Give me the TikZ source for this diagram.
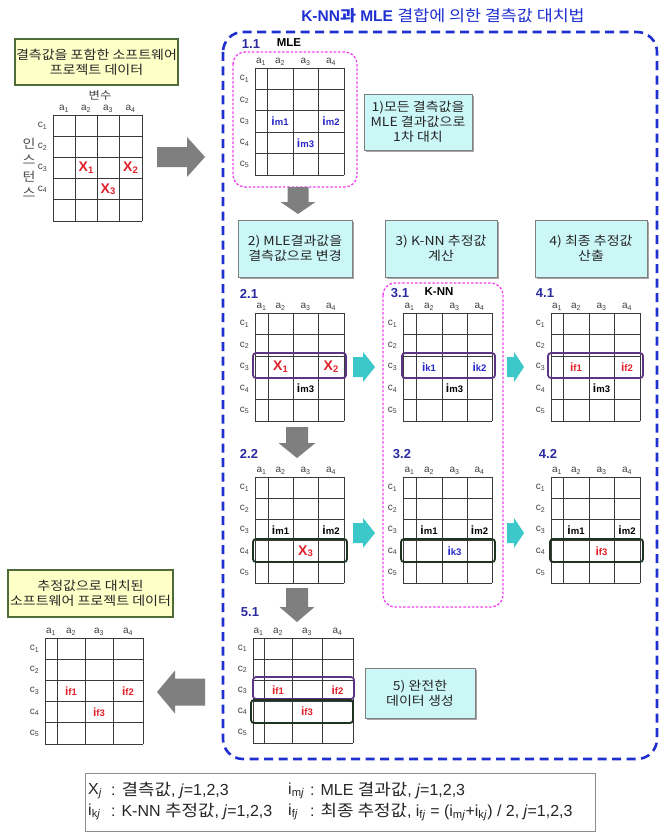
\documentclass[tikz,border=0pt]{standalone}
\usepackage{fontspec}
\setmainfont{Liberation Sans}
\newfontfamily\kr{Noto Sans CJK KR}[FakeStretch=1.12]
\usetikzlibrary{shadows}
\definecolor{kblue}{HTML}{1F2FD0}
\definecolor{secblue}{HTML}{2A2A9E}
\definecolor{kred}{HTML}{E0202A}
\definecolor{vblue}{HTML}{2828C8}
\definecolor{kmag}{HTML}{F040F0}
\definecolor{kpurple}{HTML}{5E3585}
\definecolor{kdark}{HTML}{1E3320}
\definecolor{kgray}{HTML}{7F7F7F}
\definecolor{kcyan}{HTML}{3CC8C8}
\definecolor{kyellow}{HTML}{FFFFC8}
\definecolor{kygreen}{HTML}{4F6B3A}
\definecolor{klblue}{HTML}{CCF7F7}
\definecolor{gridc}{HTML}{3A3A3A}

\newcommand{\xv}[1]{X\raisebox{-0.12em}{\fontsize{9.5}{9.5}\selectfont #1}}
\newcommand{\iv}[1]{i{\fontsize{9.5}{9.5}\selectfont #1}}

% #1 name, #2..#6 x of vertical lines, #7 top y, #8 row height, #9 last row label
\newcommand{\mkgrid}[9]{%
  \foreach \xx in {#2,#3,#4,#5,#6} \draw[gridl] (\xx,#7) -- (\xx,{#7+5*#8});
  \foreach \k in {0,...,5} \draw[gridl] (#2,{#7+\k*#8}) -- (#6,{#7+\k*#8});
  \node[collab] (#1-a1) at ({(#2+#3)/2},{#7-6}) {a\textsubscript{1}};
  \node[collab] (#1-a2) at ({(#3+#4)/2},{#7-6}) {a\textsubscript{2}};
  \node[collab] (#1-a3) at ({(#4+#5)/2},{#7-6}) {a\textsubscript{3}};
  \node[collab] (#1-a4) at ({(#5+#6)/2},{#7-6}) {a\textsubscript{4}};
  \foreach \r in {1,...,#9} \node[rowlab] (#1-c\r) at ({#2-10.5},{#7+(\r-0.5)*#8}) {c\textsubscript{\r}};
  \foreach \r in {1,...,5} {
    \coordinate (#1-\r-2) at ({(#3+#4)/2},{#7+(\r-0.5)*#8});
    \coordinate (#1-\r-3) at ({(#4+#5)/2},{#7+(\r-0.5)*#8});
    \coordinate (#1-\r-4) at ({(#5+#6)/2},{#7+(\r-0.5)*#8});
  }
}
% horizontal block arrow: tail x, tip x, y, shaft half, head half, head length (signed), colour
\newcommand{\harrow}[7]{%
  \fill[#7] (#1,{#3-#4}) -- ({#2-#6},{#3-#4}) -- ({#2-#6},{#3-#5}) -- (#2,#3)
    -- ({#2-#6},{#3+#5}) -- ({#2-#6},{#3+#4}) -- (#1,{#3+#4}) -- cycle;}
% vertical block arrow: x, tail y, tip y, shaft half, head half, head length, colour
\newcommand{\varrow}[7]{%
  \fill[#7] ({#1-#4},#2) -- ({#1-#4},{#3-#6}) -- ({#1-#5},{#3-#6}) -- (#1,#3)
    -- ({#1+#5},{#3-#6}) -- ({#1+#4},{#3-#6}) -- ({#1+#4},#2) -- cycle;}

\begin{document}
\begin{tikzpicture}[x=1pt,y=-1pt,
  gridl/.style={draw=gridc, line width=0.7pt},
  collab/.style={inner sep=0pt, font=\fontsize{10}{10}\selectfont, text=black!75},
  rowlab/.style={inner sep=0pt, font=\fontsize{10}{10}\selectfont, text=black!75},
  val/.style={inner sep=0pt, font=\bfseries\fontsize{14}{14}\selectfont},
  ival/.style={inner sep=0pt, font=\bfseries\fontsize{12}{12}\selectfont},
  secnum/.style={inner sep=0pt, text=secblue, font=\bfseries\fontsize{13}{13}\selectfont},
  seclab/.style={inner sep=0pt, font=\bfseries\fontsize{11.5}{11.5}\selectfont},
  ybox/.style={draw=kygreen, line width=1.3pt, fill=kyellow, align=center, inner sep=0pt,
    font=\kr\fontsize{12.5}{15}\selectfont, text=black!85},
  lbox/.style={draw=kgray, line width=0.8pt, fill=klblue, align=center, inner sep=0pt,
    drop shadow={shadow xshift=2pt, shadow yshift=-2pt, fill=black!35, opacity=1},
    font=\kr\fontsize{12.5}{15}\selectfont, text=black!85},
  rowp/.style={draw=kpurple, line width=1.8pt, rounded corners=3pt},
  rowd/.style={draw=kdark, line width=1.8pt, rounded corners=3pt},
  magbox/.style={draw=kmag, line width=1.3pt, dash pattern=on 2.5pt off 1.8pt, rounded corners=12pt},
  leg/.style={inner sep=0pt, anchor=west, font=\fontsize{16}{16}\selectfont, text=black!85}
]
\useasboundingbox (0,0) rectangle (668,832);

% title and big dashed frame
\node[inner sep=0pt, text=kblue, font=\fontsize{15.5}{15.5}\selectfont] (title) at (443,16)
  {\textbf{K-NN{\kr 과} MLE} {\kr 결합에 의한 결측값 대치법}};
\draw[kblue, line width=2.6pt, dash pattern=on 9pt off 5.5pt, rounded corners=20pt] (223,32) rectangle (657,759);

% ---------- input data (top left)
\node[ybox, minimum width=163pt, minimum height=46pt] (inbox) at (96.5,62)
  {결측값을 포함한 소프트웨어\\프로젝트 데이터};
\node[inner sep=0pt, font=\kr\fontsize{11}{11}\selectfont, text=black!75] (varlab) at (100,95) {변수};
\node[inner sep=0pt, align=center, font=\kr\fontsize{12.5}{16.5}\selectfont, text=black!70] (instlab) at (29,168) {인\\스\\턴\\스};
\mkgrid{g0}{53}{75}{97}{119}{142}{115}{21.2}{4}
\node[val, kred] (g0x1) at (g0-3-2) {\xv{1}};
\node[val, kred] (g0x2) at (g0-3-4) {\xv{2}};
\node[val, kred] (g0x3) at (g0-4-3) {\xv{3}};
\harrow{157}{205}{157}{10}{20}{18}{kgray}

% ---------- 1.1 MLE
\node[secnum] (s11) at (251,44) {1.1};
\node[seclab] (s11l) at (289,43) {MLE};
\draw[magbox] (233,52) rectangle (357,187);
\mkgrid{g11}{255}{267}{293}{318}{344}{68}{21.4}{5}
\node[ival, vblue] (g11m1) at (g11-3-2) {\iv{m1}};
\node[ival, vblue] (g11m2) at (g11-3-4) {\iv{m2}};
\node[ival, vblue] (g11m3) at (g11-4-3) {\iv{m3}};
\node[lbox, minimum width=108pt, minimum height=56pt] (b1) at (418,122)
  {1)모든 결측값을\\MLE 결과값으로\\1차 대치};
\varrow{298}{187}{214}{10.5}{17.5}{12}{kgray}

% ---------- step boxes
\node[lbox, minimum width=114pt, minimum height=57pt] (b2) at (295,248.5) {2) MLE결과값을\\결측값으로 변경};
\node[lbox, minimum width=112pt, minimum height=57pt] (b3) at (441,248.5) {3) K-NN 추정값\\계산};
\node[lbox, minimum width=112pt, minimum height=57pt] (b4) at (591,248.5) {4) 최종 추정값\\산출};

% ---------- 2.1
\node[secnum] (s21) at (249,293.5) {2.1};
\mkgrid{g21}{255}{268}{293}{318}{344}{313}{21.6}{5}
\draw[rowp] (253,353) rectangle (346,378);
\node[val, kred] (g21x1) at (g21-3-2) {\xv{1}};
\node[val, kred] (g21x2) at (g21-3-4) {\xv{2}};
\node[ival] (g21m3) at (g21-4-3) {\iv{m3}};
\harrow{353}{375}{367}{10}{15}{12}{kcyan}

% ---------- 3.1 K-NN
\draw[magbox] (383,283) rectangle (503,607);
\node[secnum] (s31) at (400,293) {3.1};
\node[seclab] (s31l) at (439,292) {K-NN};
\mkgrid{g31}{403}{416}{442}{467}{492}{313}{21.6}{5}
\draw[rowp] (402,353) rectangle (495,378);
\node[ival, vblue] (g31k1) at (g31-3-2) {\iv{k1}};
\node[ival, vblue] (g31k2) at (g31-3-4) {\iv{k2}};
\node[ival] (g31m3) at (g31-4-3) {\iv{m3}};
\harrow{507}{524}{367}{10}{15}{10}{kcyan}

% ---------- 4.1
\node[secnum] (s41) at (545,293.5) {4.1};
\mkgrid{g41}{551}{563}{589}{614}{640}{313}{21.6}{5}
\draw[rowp] (548,353) rectangle (643,378);
\node[ival, kred] (g41f1) at (g41-3-2) {\iv{f1}};
\node[ival, kred] (g41f2) at (g41-3-4) {\iv{f2}};
\node[ival] (g41m3) at (g41-4-3) {\iv{m3}};

\varrow{297}{427}{458}{11}{18.5}{15}{kgray}

% ---------- 2.2
\node[secnum] (s22) at (249,454) {2.2};
\mkgrid{g22}{255}{268}{293}{318}{344}{477}{21.2}{5}
\draw[rowd] (253,539) rectangle (347,562);
\node[ival] (g22m1) at (g22-3-2) {\iv{m1}};
\node[ival] (g22m2) at (g22-3-4) {\iv{m2}};
\node[val, kred] (g22x3) at (g22-4-3) {\xv{3}};
\harrow{353}{375}{533}{10}{15}{12}{kcyan}

% ---------- 3.2
\node[secnum] (s32) at (402,454) {3.2};
\mkgrid{g32}{403}{416}{442}{467}{492}{477}{21.2}{5}
\draw[rowd] (401,539) rectangle (495,562);
\node[ival] (g32m1) at (g32-3-2) {\iv{m1}};
\node[ival] (g32m2) at (g32-3-4) {\iv{m2}};
\node[ival, vblue] (g32k3) at (g32-4-3) {\iv{k3}};
\harrow{507}{524}{533}{10}{15}{10}{kcyan}

% ---------- 4.2
\node[secnum] (s42) at (548,454) {4.2};
\mkgrid{g42}{551}{563}{589}{614}{640}{477}{21.2}{5}
\draw[rowd] (550,539) rectangle (643,562);
\node[ival] (g42m1) at (g42-3-2) {\iv{m1}};
\node[ival] (g42m2) at (g42-3-4) {\iv{m2}};
\node[ival, kred] (g42f3) at (g42-4-3) {\iv{f3}};

\varrow{297}{588}{622}{11}{17.5}{15}{kgray}

% ---------- 5.1
\node[secnum] (s51) at (250,612) {5.1};
\mkgrid{g51}{253}{264}{292}{322}{353}{638}{21}{5}
\draw[rowp] (253,677) rectangle (354,699);
\draw[rowd] (251,700) rectangle (353,723);
\node[ival, kred] (g51f1) at (g51-3-2) {\iv{f1}};
\node[ival, kred] (g51f2) at (g51-3-4) {\iv{f2}};
\node[ival, kred] (g51f3) at (g51-4-3) {\iv{f3}};
\node[lbox, minimum width=110pt, minimum height=50pt] (b5) at (420,693) {5) 완전한\\데이터 생성};

% ---------- output data (bottom left)
\node[ybox, minimum width=165pt, minimum height=47pt] (outbox) at (90.5,593.5)
  {추정값으로 대치된\\소프트웨어 프로젝트 데이터};
\mkgrid{g0o}{45}{57}{85}{113}{143}{638}{21.2}{5}
\node[ival, kred] (g0of1) at (g0o-3-2) {\iv{f1}};
\node[ival, kred] (g0of2) at (g0o-3-4) {\iv{f2}};
\node[ival, kred] (g0of3) at (g0o-4-3) {\iv{f3}};
\harrow{205}{157}{692}{13.5}{21.5}{-18}{kgray}

% ---------- legend
\draw[draw=black!45, line width=0.8pt] (85,773) rectangle (595,831);
\node[leg] (l1a) at (88,791) {X\textsubscript{\textit{j}}};
\node[leg] (l1b) at (111,791) {: {\kr 결측값}, \textit{j}=1,2,3};
\node[leg] (l1c) at (288,791) {i\textsubscript{m\textit{j}}};
\node[leg] (l1d) at (310,791) {: MLE {\kr 결과값}, \textit{j}=1,2,3};
\node[leg] (l2a) at (88,812) {i\textsubscript{k\textit{j}}};
\node[leg] (l2b) at (111,812) {: K-NN {\kr 추정값}, \textit{j}=1,2,3};
\node[leg] (l2c) at (288,812) {i\textsubscript{f\textit{j}}};
\node[leg] (l2d) at (310,812) {: {\kr 최종 추정값}, i\textsubscript{f\textit{j}} = (i\textsubscript{m\textit{j}}+i\textsubscript{k\textit{j}}) / 2, \textit{j}=1,2,3};
\end{tikzpicture}
\end{document}
